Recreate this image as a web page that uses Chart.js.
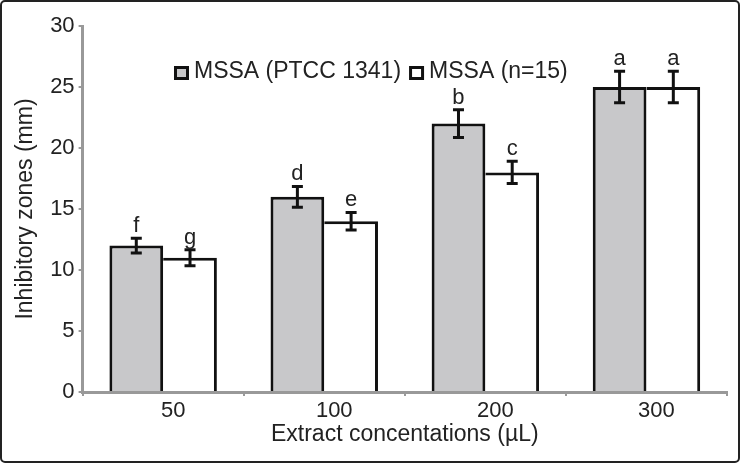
<!DOCTYPE html>
<html>
<head>
<meta charset="utf-8">
<script src="https://cdn.jsdelivr.net/npm/chart.js@4.4.0/dist/chart.umd.min.js"></script>
<style>
  html, body { margin: 0; padding: 0; background: #fff; }
  #wrap { width: 740px; height: 463px; }
</style>
</head>
<body>
<div id="wrap"><canvas id="zonesChart" width="740" height="463"></canvas></div>
<script>
// data
const concentrations = ['50', '100', '200', '300'];
const ptccZones = [12, 16, 22, 25];
const ptccErrors = [0.6, 0.85, 1.13, 1.3];
const ptccLetters = ['f', 'd', 'b', 'a'];
const clinicalZones = [11, 14, 18, 25];
const clinicalErrors = [0.65, 0.72, 0.92, 1.3];
const clinicalLetters = ['g', 'e', 'c', 'a'];
const yTicks = [0, 5, 10, 15, 20, 25, 30];

const fontFamily = '"Liberation Sans", Arial, sans-serif';
Chart.defaults.font.family = fontFamily;
Chart.defaults.color = '#222';

// error bars + letters above them
const errorBars = {
    id: 'errorBars',
    afterDatasetsDraw(chart) {
        const ctx = chart.ctx;
        const y = chart.scales.y;
        ctx.save();
        chart.data.datasets.forEach((ds, i) => {
            const meta = chart.getDatasetMeta(i);
            meta.data.forEach((bar, j) => {
                const v = ds.data[j], e = ds.errors[j];
                const top = y.getPixelForValue(v + e);
                const bot = y.getPixelForValue(v - e);
                ctx.strokeStyle = '#111';
                ctx.lineWidth = 3;
                ctx.beginPath();
                ctx.moveTo(bar.x, top); ctx.lineTo(bar.x, bot);
                ctx.moveTo(bar.x - 5.5, top); ctx.lineTo(bar.x + 5.5, top);
                ctx.moveTo(bar.x - 5.5, bot); ctx.lineTo(bar.x + 5.5, bot);
                ctx.stroke();
                ctx.fillStyle = '#222';
                ctx.font = '22px ' + fontFamily;
                ctx.textAlign = 'center';
                ctx.textBaseline = 'alphabetic';
                ctx.fillText(ds.letters[j], bar.x, top - 6);
            });
        });
        ctx.restore();
    }
};

// legend drawn inside the plot, plus the outer frame
const boxLegend = {
    id: 'boxLegend',
    afterDraw(chart) {
        const ctx = chart.ctx;
        ctx.save();
        ctx.font = '23px ' + fontFamily;
        ctx.textBaseline = 'middle';
        ctx.textAlign = 'left';
        let x = 174;
        chart.data.datasets.forEach(ds => {
            ctx.fillStyle = ds.backgroundColor;
            ctx.fillRect(x, 66, 15, 14);
            ctx.strokeStyle = '#111';
            ctx.lineWidth = 3;
            ctx.strokeRect(x + 1.5, 67.5, 12, 11);
            ctx.fillStyle = '#222';
            ctx.fillText(ds.label, x + 20, 72);
            x += 20 + ctx.measureText(ds.label).width + 8;
        });
        ctx.strokeStyle = '#222';
        ctx.lineWidth = 2;
        ctx.beginPath();
        ctx.roundRect(1, 1, 738, 461, 4);
        ctx.stroke();
        ctx.restore();
    }
};

const ctx1 = document.getElementById('zonesChart').getContext('2d');
const zonesChart = new Chart(ctx1, {
    type: 'bar',
    data: {
        labels: concentrations,
        datasets: [{
            label: 'MSSA (PTCC 1341)',
            data: ptccZones,
            errors: ptccErrors,
            letters: ptccLetters,
            backgroundColor: '#c8c8ca',
            borderColor: '#111',
            borderWidth: { top: 3, left: 3, right: 3, bottom: 0 },
            categoryPercentage: 0.667,
            barPercentage: 1
        }, {
            label: 'MSSA (n=15)',
            data: clinicalZones,
            errors: clinicalErrors,
            letters: clinicalLetters,
            backgroundColor: '#ffffff',
            borderColor: '#111',
            borderWidth: { top: 3, left: 0, right: 3, bottom: 0 },
            categoryPercentage: 0.667,
            barPercentage: 1
        }]
    },
    options: {
        responsive: false,
        animation: false,
        layout: { padding: { top: 26, right: 13, bottom: 0, left: 0 } },
        plugins: {
            legend: { display: false },
            tooltip: { enabled: false }
        },
        scales: {
            x: {
                grid: { drawOnChartArea: false, color: '#999', lineWidth: 2, tickLength: 4, offset: true },
                border: { color: '#999', width: 3 },
                ticks: { font: { size: 22 }, padding: 2, labelOffset: 10, color: '#222' },
                title: {
                    display: true,
                    text: 'Extract concentations (µL)',
                    font: { size: 23 },
                    padding: { top: 0, bottom: 15 },
                    color: '#222'
                },
                afterFit: s => { s.height = 71; }
            },
            y: {
                min: 0,
                max: 30,
                afterBuildTicks: s => { s.ticks = yTicks.map(v => ({ value: v })); },
                grid: { drawOnChartArea: false, color: '#999', lineWidth: 2, tickLength: 4 },
                border: { color: '#999', width: 3 },
                ticks: { font: { size: 22 }, padding: 4, color: '#222' },
                title: {
                    display: true,
                    text: 'Inhibitory zones (mm)',
                    font: { size: 23 },
                    padding: { top: 12, bottom: 0 },
                    color: '#222'
                },
                afterFit: s => { s.width = 82.6; }
            }
        }
    },
    plugins: [errorBars, boxLegend]
});
</script>
</body>
</html>
